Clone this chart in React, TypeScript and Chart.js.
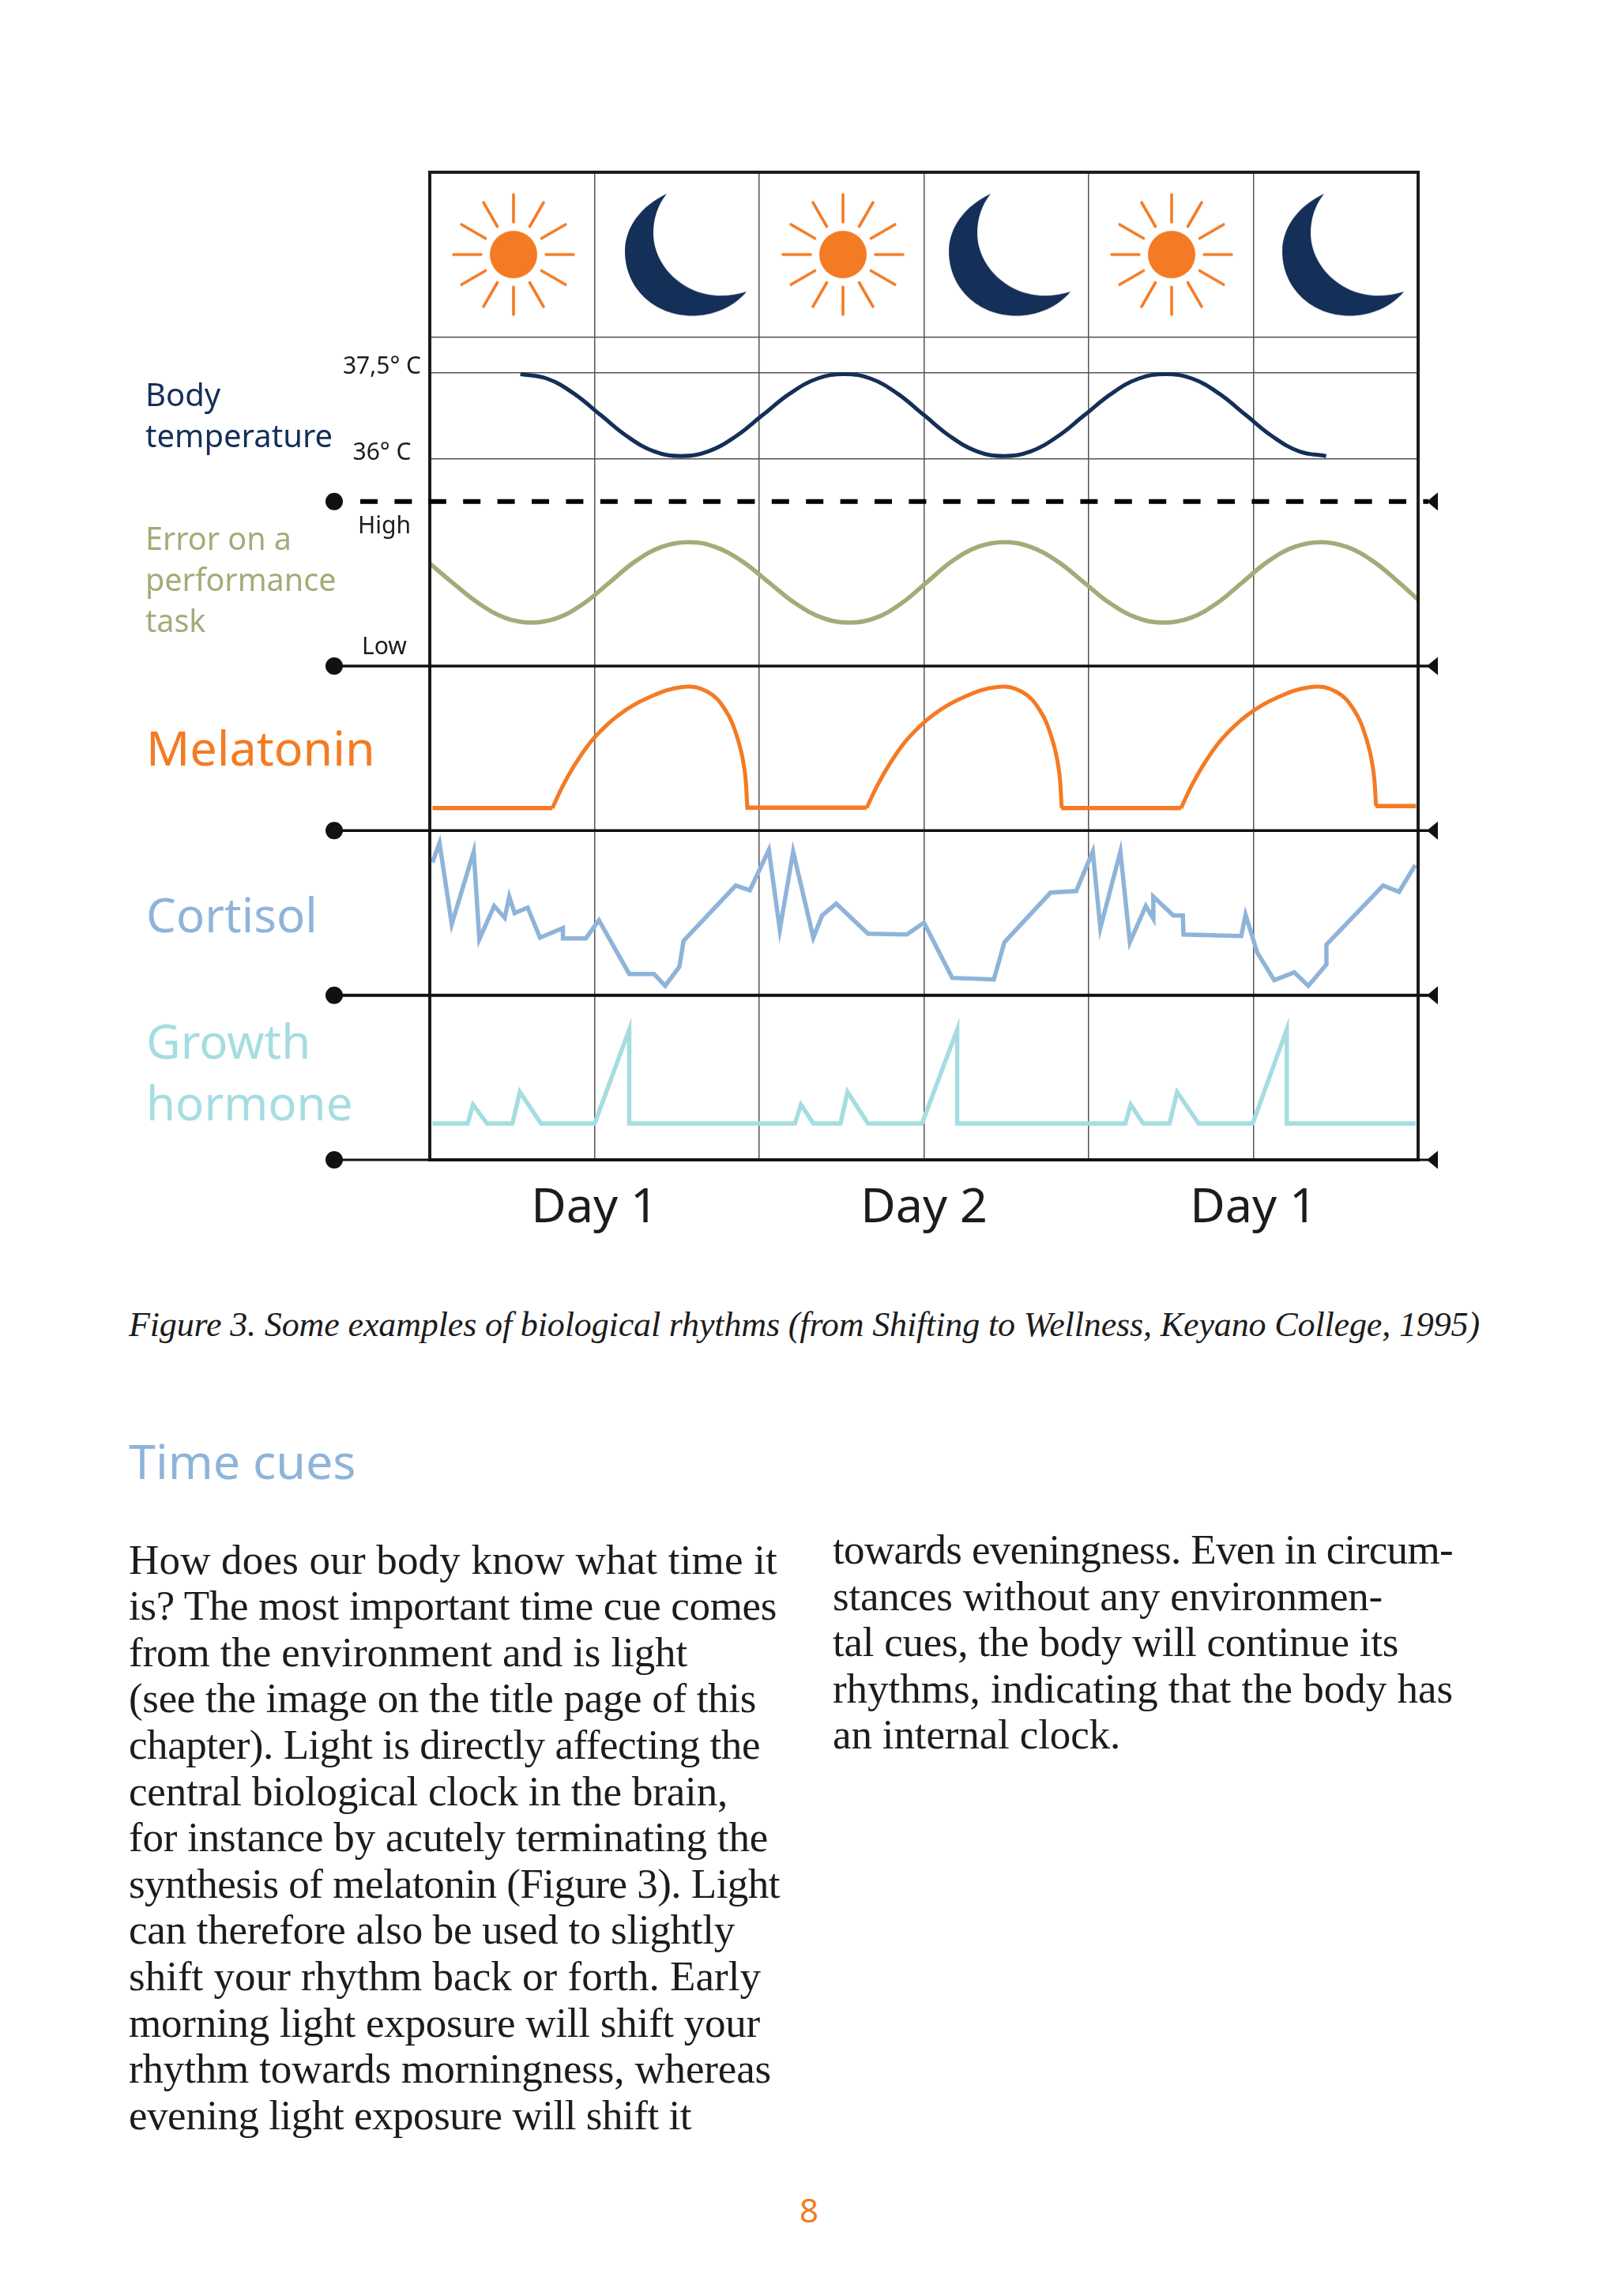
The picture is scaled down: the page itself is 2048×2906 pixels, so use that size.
import React, { useEffect, useRef } from "react";
import { Chart, registerables } from "chart.js";

Chart.register(...registerables);

// ---- Data ----
const sunHours = [6.1, 30.1, 54.04];
const moonHours = [18.76, 42.36, 66.65];
const dayTicks: Record<number, string> = { 12: "Day 1", 36: "Day 2", 60: "Day 1" };

const temperatureTicks = [36, 37.5];
const temperatureHours = [6.6, 8.55, 10.5, 12.45, 14.4, 16.35, 18.3, 20.28, 22.27, 24.25, 26.23, 28.22, 30.2, 32.13, 34.07, 36, 37.93, 39.87, 41.8, 43.77, 45.73, 47.7, 49.67, 51.63, 53.6, 55.55, 57.5, 59.45, 61.4, 63.35, 65.3];
const temperatureValues = [37.48, 37.4, 37.14, 36.765, 36.39, 36.13, 36.05, 36.13, 36.39, 36.765, 37.14, 37.4, 37.48, 37.4, 37.14, 36.765, 36.39, 36.13, 36.05, 36.13, 36.39, 36.765, 37.14, 37.4, 37.48, 37.4, 37.14, 36.765, 36.39, 36.13, 36.05];

const errorHours = [0, 1.7, 3.6, 5.5, 7.4, 9.3, 11.2, 13.1, 15, 16.9, 18.8, 20.77, 22.73, 24.7, 26.67, 28.63, 30.6, 32.47, 34.33, 36.2, 38.07, 39.93, 41.8, 43.75, 45.7, 47.65, 49.6, 51.55, 53.5, 55.4, 57.3, 59.2, 61.1, 63, 64.9, 66.8, 68.7, 70.6, 72];
const errorValues = [130, 105, 79, 61, 55, 61, 79, 106, 133, 151, 157, 151, 133, 106, 79, 61, 55, 61, 79, 106, 133, 151, 157, 151, 133, 106, 79, 61, 55, 61, 79, 106, 133, 151, 157, 151, 133, 106, 84];
const errorHigh = 177;
const errorLow = 24;

const melatoninArchHours1 = [8.93, 9.7, 10.73, 12, 13.8, 15.86, 18.43, 20.23, 21.52, 22.42, 22.93, 23.14];
const melatoninArchValues1 = [28.5, 57, 88, 118, 147, 168, 182, 176, 153, 117, 77, 29];
const melatoninArchHours2 = [31.83, 32.6, 33.63, 34.9, 36.7, 38.76, 41.33, 43.13, 44.42, 45.32, 45.83, 46.04];
const melatoninArchValues2 = [29, 57, 88, 118, 147, 168, 182, 176, 153, 117, 77, 28.5];
const melatoninArchHours3 = [54.73, 55.5, 56.53, 57.8, 59.6, 61.66, 64.23, 66.03, 67.32, 68.22, 68.73, 68.94];
const melatoninArchValues3 = [28.5, 57, 88, 118, 147, 168, 182, 176, 153, 117, 77, 31];
const melatoninBaseHours = [0.2, 8.93, 9, 23, 31.83, 32, 46, 54.73, 55, 68.9, 71.85];
const melatoninBaseValues = [28.5, 28.5, null, 29, 29, null, 28.5, 28.5, null, 31, 31];

const cortisolHours = [0.19, 0.71, 1.6, 3.2, 3.61, 4.69, 5.46, 5.79, 6.18, 7.13, 8.03, 9.7, 9.7, 11.37, 12.32, 14.53, 16.33, 17.15, 18.18, 18.49, 22.29, 23.32, 24.7, 25.5, 26.47, 27.94, 28.58, 29.61, 31.92, 34.75, 36, 38.06, 41.09, 41.86, 45.22, 47.09, 48.3, 48.85, 50.31, 51, 52.16, 52.71, 52.71, 54.17, 54.86, 54.91, 59.12, 59.43, 60.28, 61.52, 62.98, 64, 65.32, 65.32, 69.45, 70.61, 71.79];
const cortisolValues = [168, 193, 90, 182, 71, 113, 98, 125, 104, 111, 73, 85, 72, 72, 95, 27, 27, 12, 36, 69, 139, 133, 184, 83, 182, 73, 101, 116, 78, 77, 92, 22, 20, 67, 130, 132, 182, 85, 182, 67, 113, 97, 125, 101, 101, 77, 75, 102, 54, 19, 29, 12, 39, 64, 139, 131, 165];

const growthHours = [0.19, 2.76, 3.15, 4.17, 6.02, 6.56, 8.1, 12.01, 14.53, 14.53, 26.6, 27.04, 27.94, 29.92, 30.43, 31.92, 35.86, 38.42, 38.42, 50.67, 51.06, 51.97, 53.89, 54.44, 56.01, 59.95, 62.43, 62.43, 71.84];
const growthValues = [46, 46, 70, 46, 46, 86, 46, 46, 165, 46, 46, 70, 46, 46, 86, 46, 46, 165, 46, 46, 70, 46, 46, 86, 46, 46, 165, 46, 46];

const bodyLeft = [
  "How does our body know what time it",
  "is? The most important time cue comes",
  "from the environment and is light",
  "(see the image on the title page of this",
  "chapter). Light is directly affecting the",
  "central biological clock in the brain,",
  "for instance by acutely terminating the",
  "synthesis of melatonin (Figure 3). Light",
  "can therefore also be used to slightly",
  "shift your rhythm back or forth. Early",
  "morning light exposure will shift your",
  "rhythm towards morningness, whereas",
  "evening light exposure will shift it",
];
const bodyLeftRightEdges = [984, 984, 870, 957, 962, 921, 972, 987, 930, 963, 962, 976, 875];
const bodyRight = [
  "towards eveningness. Even in circum-",
  "stances without any environmen-",
  "tal cues, the body will continue its",
  "rhythms, indicating that the body has",
  "an internal clock.",
];
const bodyRightRightEdges = [1839, 1750, 1770, 1839, 1418];
const caption = "Figure 3. Some examples of biological rhythms (from Shifting to Wellness, Keyano College, 1995)";

const NAVY = "#142f58";
const ORANGE = "#f47b24";
const OLIVE = "#a3ac78";
const BLUE = "#8fb4d9";
const AQUA = "#a5dde1";
const INK = "#1c1c1c";
const SANS = '"Noto Sans", sans-serif';
const SERIF = '"Liberation Serif", serif';

const sideLabels = [
  { text: "Body", x: 184, y: 499, size: 40, color: NAVY },
  { text: "temperature", x: 184, y: 551, size: 40, color: NAVY },
  { text: "Error on a", x: 184, y: 681, size: 39.5, color: OLIVE },
  { text: "performance", x: 184, y: 733, size: 39.5, color: OLIVE },
  { text: "task", x: 184, y: 785, size: 39.5, color: OLIVE },
  { text: "Melatonin", x: 185, y: 945, size: 61, color: ORANGE },
  { text: "Cortisol", x: 185, y: 1157, size: 60, color: BLUE },
  { text: "Growth", x: 185, y: 1317, size: 60, color: AQUA },
  { text: "hormone", x: 185, y: 1395, size: 60, color: AQUA },
];

function zip(xs: number[], ys: (number | null)[]) {
  return xs.map((x, i) => ({ x, y: ys[i] }));
}

function makeSun() {
  const c = document.createElement("canvas");
  c.width = 170;
  c.height = 170;
  const g = c.getContext("2d")!;
  g.translate(85, 85);
  g.strokeStyle = ORANGE;
  g.fillStyle = ORANGE;
  g.lineWidth = 3.6;
  g.lineCap = "round";
  for (let i = 0; i < 12; i++) {
    const a = (i * Math.PI) / 6;
    g.beginPath();
    g.moveTo(Math.cos(a) * 41, Math.sin(a) * 41);
    g.lineTo(Math.cos(a) * 76, Math.sin(a) * 76);
    g.stroke();
  }
  g.beginPath();
  g.arc(0, 0, 30, 0, Math.PI * 2);
  g.fill();
  return c;
}

function makeMoon() {
  const c = document.createElement("canvas");
  c.width = 170;
  c.height = 170;
  const g = c.getContext("2d")!;
  g.translate(85, 85);
  g.fillStyle = NAVY;
  g.beginPath();
  g.moveTo(-26, -77);
  g.bezierCurveTo(-58, -62, -79, -35, -79, -4);
  g.bezierCurveTo(-79, 43, -41, 77.5, 6, 77.5);
  g.bezierCurveTo(33, 77.5, 58, 67, 75, 47);
  g.bezierCurveTo(65, 50, 53, 52, 42, 52);
  g.bezierCurveTo(-5, 52, -43, 14, -43, -27);
  g.bezierCurveTo(-43, -45, -38, -62, -26, -77);
  g.closePath();
  g.fill();
  return c;
}

const bandPlugin = {
  id: "bands",
  afterDatasetsDraw(chart: any) {
    const { ctx, chartArea, scales } = chart;
    const rows = [
      { y: scales.yTemp.bottom, width: 6, dash: [22, 21.4] },
      { y: scales.yError.bottom, width: 3.5, dash: [] },
      { y: scales.yMel.bottom, width: 3.5, dash: [] },
      { y: scales.yCort.bottom, width: 4, dash: [] },
      { y: scales.yGrowth.bottom, width: 3, dash: [] },
    ];
    ctx.save();
    ctx.strokeStyle = INK;
    ctx.lineWidth = 4;
    ctx.strokeRect(chartArea.left, chartArea.top, chartArea.right - chartArea.left, chartArea.bottom - chartArea.top);
    for (const r of rows) {
      ctx.strokeStyle = r.dash.length ? "#000" : "#111";
      ctx.fillStyle = "#111";
      ctx.lineWidth = r.width;
      ctx.setLineDash(r.dash);
      ctx.beginPath();
      ctx.moveTo(r.dash.length ? 456 : 423, r.y);
      ctx.lineTo(1808, r.y);
      ctx.stroke();
      ctx.setLineDash([]);
      ctx.beginPath();
      ctx.arc(423, r.y, 11, 0, Math.PI * 2);
      ctx.fill();
      ctx.beginPath();
      ctx.moveTo(1806, r.y);
      ctx.lineTo(1820, r.y - 11.5);
      ctx.lineTo(1820, r.y + 11.5);
      ctx.closePath();
      ctx.fill();
    }
    ctx.restore();
  },
};

const measureCtx = document.createElement("canvas").getContext("2d")!;

function Text({ x, y, size, color, font, italic, rightEdge, children }: any) {
  const lh = Math.round(size * 1.4);
  let letterSpacing = 0;
  if (rightEdge) {
    measureCtx.font = `${italic ? "italic " : ""}${size}px ${font}`;
    const natural = measureCtx.measureText(children).width;
    letterSpacing = (rightEdge - x - natural) / children.length;
  }
  return (
    <div
      style={{
        position: "absolute",
        left: x,
        top: y - lh / 2,
        lineHeight: lh + "px",
        fontSize: size,
        fontFamily: font,
        fontStyle: italic ? "italic" : "normal",
        letterSpacing,
        color,
        whiteSpace: "nowrap",
      }}
    >
      {children}
    </div>
  );
}

export default function App() {
  const ref = useRef<HTMLCanvasElement>(null);
  useEffect(() => {
    const line = (data: any, color: string, yAxisID: string, width: number, smooth: boolean) => ({
      data,
      yAxisID,
      showLine: true,
      borderColor: color,
      borderWidth: width,
      pointRadius: 0,
      tension: smooth ? 0.4 : 0,
      borderJoinStyle: smooth ? "round" : "miter",
      borderCapStyle: "butt",
      spanGaps: false,
    });
    const fit = (s: any) => {
      s.width = 120;
    };
    const plainY = (min: number, max: number, ticks: number[]) => ({
      stack: "panels",
      position: "left",
      stackWeight: 1,
      min,
      max,
      afterFit: fit,
      afterBuildTicks: (s: any) => {
        s.ticks = ticks.map((value) => ({ value }));
      },
      border: { display: false },
      grid: { display: false, drawTicks: false },
      ticks: { display: false },
    });
    const chart = new Chart(ref.current!, {
      type: "scatter",
      data: {
        datasets: [
          { data: sunHours.map((x) => ({ x, y: 0.5 })), yAxisID: "yIcon", pointStyle: makeSun(), pointRadius: 10, showLine: false },
          { data: moonHours.map((x) => ({ x, y: 0.5 })), yAxisID: "yIcon", pointStyle: makeMoon(), pointRadius: 10, showLine: false },
          line(zip(temperatureHours, temperatureValues), NAVY, "yTemp", 5, true),
          line(zip(errorHours, errorValues), OLIVE, "yError", 5.5, true),
          line(zip(melatoninArchHours1, melatoninArchValues1), ORANGE, "yMel", 5, true),
          line(zip(melatoninArchHours2, melatoninArchValues2), ORANGE, "yMel", 5, true),
          line(zip(melatoninArchHours3, melatoninArchValues3), ORANGE, "yMel", 5, true),
          line(zip(melatoninBaseHours, melatoninBaseValues), ORANGE, "yMel", 5.5, false),
          line(zip(cortisolHours, cortisolValues), BLUE, "yCort", 5.5, false),
          line(zip(growthHours, growthValues), AQUA, "yGrowth", 5.5, false),
        ] as any,
      },
      options: {
        animation: false,
        responsive: false,
        devicePixelRatio: 1,
        layout: { padding: { left: 424, top: 218, right: 253, bottom: 32 } },
        plugins: { legend: { display: false }, tooltip: { enabled: false } },
        scales: {
          x: {
            type: "linear",
            min: 0,
            max: 72,
            afterFit: (s: any) => {
              s.height = 100;
            },
            border: { display: false },
            grid: {
              drawTicks: false,
              color: (c: any) => (c.tick.value === 0 || c.tick.value === 72 ? INK : "#555555"),
              lineWidth: (c: any) => (c.tick.value === 0 || c.tick.value === 72 ? 4 : 1.5),
            },
            ticks: {
              stepSize: 12,
              autoSkip: false,
              maxRotation: 0,
              padding: 25,
              color: INK,
              font: { family: "Noto Sans", size: 61 },
              callback: (v: any) => dayTicks[v] ?? "",
            },
          },
          // stacked axes run bottom to top in the order they are declared
          yGrowth: plainY(0, 208.5, []),
          yCort: plainY(0, 208.5, []),
          yMel: plainY(0, 208.5, []),
          yError: {
            ...plainY(0, 208.5, [errorLow, errorHigh]),
            ticks: {
              display: true,
              crossAlign: "center",
              padding: 24,
              color: INK,
              font: { family: "Noto Sans", size: 30 },
              callback: (v: any) => (v === errorHigh ? "High" : "Low"),
            },
          },
          yTemp: {
            ...plainY(35.257, 38.13, temperatureTicks),
            grid: { display: true, drawTicks: false, color: "#555555", lineWidth: 1.5 },
            ticks: {
              display: true,
              crossAlign: "center",
              padding: 11,
              color: INK,
              font: { family: "Noto Sans", size: 30, lineHeight: 0.5 },
              callback: (v: any) => [v === 36 ? "36° C" : "37,5° C", ""],
            },
          },
          yIcon: {
            ...plainY(0, 1, [0]),
            grid: { display: true, drawTicks: false, color: "#555555", lineWidth: 1.5 },
          },
        } as any,
      },
      plugins: [bandPlugin as any],
    } as any);
    return () => chart.destroy();
  }, []);

  return (
    <div style={{ position: "absolute", left: 0, top: 0, width: 2048, height: 2906, background: "#fff", overflow: "hidden" }}>
      <canvas ref={ref} width={2048} height={1600} style={{ position: "absolute", left: 0, top: 0, width: 2048, height: 1600 }} />
      {sideLabels.map((l) => (
        <Text key={l.text} x={l.x} y={l.y} size={l.size} color={l.color} font={SANS}>
          {l.text}
        </Text>
      ))}
      <Text x={163} y={1677} size={44} color={INK} font={SERIF} italic rightEdge={1873}>
        {caption}
      </Text>
      <Text x={163} y={1848} size={61} color={BLUE} font={SANS}>
        Time cues
      </Text>
      {bodyLeft.map((t, i) => (
        <Text key={t} x={163} y={1973.5 + i * 58.6} size={53} color={INK} font={SERIF} rightEdge={bodyLeftRightEdges[i]}>
          {t}
        </Text>
      ))}
      {bodyRight.map((t, i) => (
        <Text key={t} x={1054} y={1961 + i * 58.6} size={53} color={INK} font={SERIF} rightEdge={bodyRightRightEdges[i]}>
          {t}
        </Text>
      ))}
      <Text x={1012} y={2796} size={42} color={ORANGE} font={SANS}>
        8
      </Text>
    </div>
  );
}
